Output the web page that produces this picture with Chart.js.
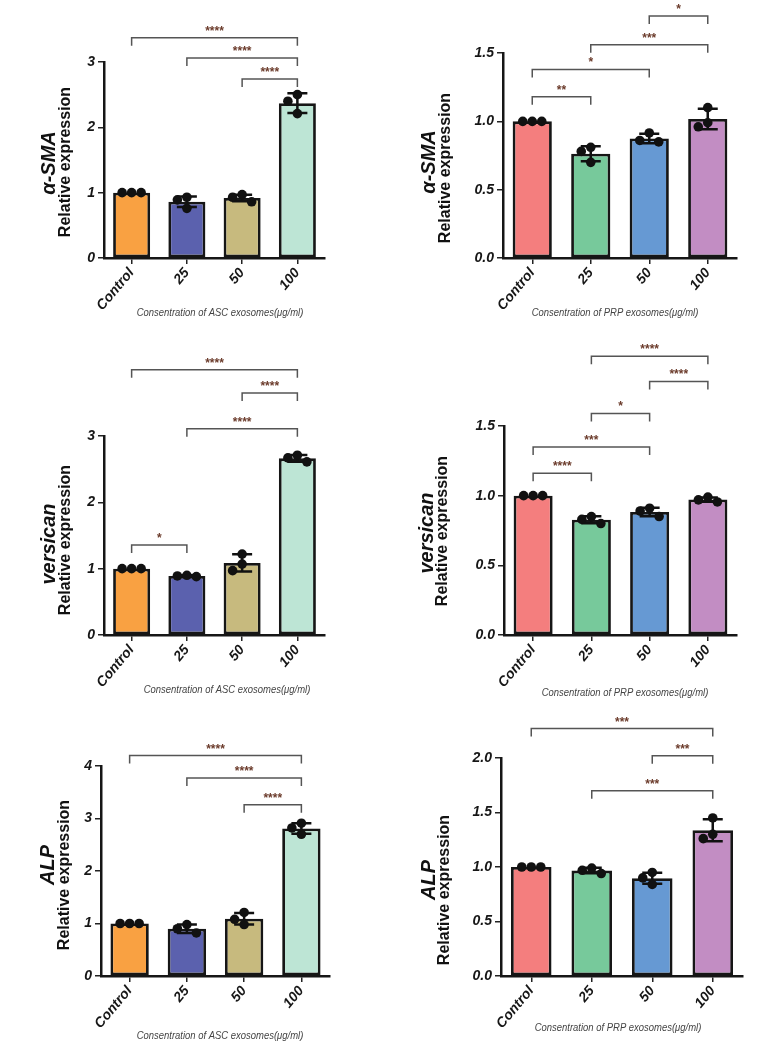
<!DOCTYPE html>
<html>
<head>
<meta charset="utf-8">
<script src="https://cdn.jsdelivr.net/npm/chart.js@4.4.1/dist/chart.umd.min.js"></script>
<style>
  html, body { margin: 0; padding: 0; background: #fff; }
  body { width: 771px; height: 1060px; position: relative; overflow: hidden; }
  canvas { position: absolute; }
</style>
</head>
<body>
<canvas id="c1" width="385" height="340" style="left:0;top:0"></canvas>
<canvas id="c2" width="386" height="340" style="left:385px;top:0"></canvas>
<canvas id="c3" width="385" height="360" style="left:0;top:340px"></canvas>
<canvas id="c4" width="386" height="360" style="left:385px;top:340px"></canvas>
<canvas id="c5" width="385" height="360" style="left:0;top:700px"></canvas>
<canvas id="c6" width="386" height="360" style="left:385px;top:700px"></canvas>
<script>
// categories shared by all six panels
const categories = ['Control', '25', '50', '100'];

// ASC exosomes - alpha-SMA
const ascSmaMean = [1.00, 0.86, 0.92, 2.37];
const ascSmaSD = [0.00, 0.08, 0.05, 0.15];
const ascSmaPoints = [[1.00, 1.00, 1.00], [0.93, 0.89, 0.76], [0.97, 0.93, 0.86], [2.50, 2.40, 2.21]];
const ascSmaSig = [[0, 3, 3.37, '****'], [1, 3, 3.06, '****'], [2, 3, 2.74, '****']];
const ascSmaTicks = [0, 1, 2, 3];

// PRP exosomes - alpha-SMA
const prpSmaMean = [1.00, 0.763, 0.875, 1.017];
const prpSmaSD = [0.00, 0.055, 0.035, 0.075];
const prpSmaPoints = [[1.00, 1.00, 1.00], [0.81, 0.78, 0.70], [0.915, 0.86, 0.85], [1.10, 0.99, 0.96]];
const prpSmaSig = [[2, 3, 1.77, '*'], [1, 3, 1.56, '***'], [0, 2, 1.38, '*'], [0, 1, 1.18, '**']];
const prpSmaTicks = [0, 0.5, 1.0, 1.5];

// ASC exosomes - versican
const ascVerMean = [1.00, 0.89, 1.087, 2.663];
const ascVerSD = [0.00, 0.01, 0.13, 0.05];
const ascVerPoints = [[1.00, 1.00, 1.00], [0.90, 0.89, 0.88], [1.22, 1.07, 0.97], [2.71, 2.67, 2.61]];
const ascVerSig = [[0, 3, 4.00, '****'], [2, 3, 3.65, '****'], [1, 3, 3.11, '****'], [0, 1, 1.355, '*']];
const ascVerTicks = [0, 1, 2, 3];

// PRP exosomes - versican
const prpVerMean = [1.00, 0.827, 0.883, 0.972];
const prpVerSD = [0.00, 0.025, 0.03, 0.015];
const prpVerPoints = [[1.00, 1.00, 1.00], [0.85, 0.83, 0.80], [0.91, 0.89, 0.85], [0.99, 0.97, 0.955]];
const prpVerSig = [[1, 3, 2.00, '****'], [2, 3, 1.82, '****'], [1, 2, 1.59, '*'], [0, 2, 1.35, '***'], [0, 1, 1.16, '****']];
const prpVerTicks = [0, 0.5, 1.0, 1.5];

// ASC exosomes - ALP
const ascAlpMean = [1.00, 0.90, 1.09, 2.81];
const ascAlpSD = [0.00, 0.08, 0.11, 0.10];
const ascAlpPoints = [[1.00, 1.00, 1.00], [0.98, 0.90, 0.82], [1.21, 1.08, 0.98], [2.91, 2.82, 2.70]];
const ascAlpSig = [[0, 3, 4.20, '****'], [1, 3, 3.77, '****'], [2, 3, 3.26, '****']];
const ascAlpTicks = [0, 1, 2, 3, 4];

// PRP exosomes - ALP
const prpAlpMean = [1.00, 0.967, 0.897, 1.337];
const prpAlpSD = [0.00, 0.025, 0.05, 0.10];
const prpAlpPoints = [[1.00, 1.00, 1.00], [0.99, 0.97, 0.94], [0.95, 0.90, 0.84], [1.45, 1.30, 1.26]];
const prpAlpSig = [[0, 3, 2.27, '***'], [2, 3, 2.02, '***'], [1, 3, 1.70, '***']];
const prpAlpTicks = [0, 0.5, 1.0, 1.5, 2.0];

const ascColors = ['#F9A142', '#5B61AE', '#C7BA7E', '#BDE5D5'];
const prpColors = ['#F47E7E', '#77C99B', '#6699D3', '#C28DC3'];

const ascTitle = 'Consentration of ASC exosomes(μg/ml)';
const prpTitle = 'Consentration of PRP exosomes(μg/ml)';

const FONT = "'Liberation Sans', Arial, sans-serif";

// layout of each panel: canvas size, plot area, label positions (canvas px)
const panels = [
  { id: 'c1', gene: 'α-SMA', xTitle: ascTitle, colors: ascColors, mean: ascSmaMean, sd: ascSmaSD, points: ascSmaPoints, sig: ascSmaSig, ticks: ascSmaTicks, dec: 0,
    w: 385, h: 340, area: { l: 104, r: 325, t: 62, b: 258 }, geneX: 55, geneY: 163, labX: 70, labY: 162, titleX: 220, titleY: 313 },
  { id: 'c2', gene: 'α-SMA', xTitle: prpTitle, colors: prpColors, mean: prpSmaMean, sd: prpSmaSD, points: prpSmaPoints, sig: prpSmaSig, ticks: prpSmaTicks, dec: 1,
    w: 386, h: 340, area: { l: 118, r: 352, t: 53, b: 258 }, geneX: 50, geneY: 162, labX: 65, labY: 168, titleX: 230, titleY: 313 },
  { id: 'c3', gene: 'versican', xTitle: ascTitle, colors: ascColors, mean: ascVerMean, sd: ascVerSD, points: ascVerPoints, sig: ascVerSig, ticks: ascVerTicks, dec: 0,
    w: 385, h: 360, area: { l: 104, r: 325, t: 96, b: 295 }, geneX: 55, geneY: 204, labX: 70, labY: 200, titleX: 227, titleY: 350 },
  { id: 'c4', gene: 'versican', xTitle: prpTitle, colors: prpColors, mean: prpVerMean, sd: prpVerSD, points: prpVerPoints, sig: prpVerSig, ticks: prpVerTicks, dec: 1,
    w: 386, h: 360, area: { l: 119, r: 352, t: 86, b: 295 }, geneX: 48, geneY: 193, labX: 62, labY: 191, titleX: 240, titleY: 353 },
  { id: 'c5', gene: 'ALP', xTitle: ascTitle, colors: ascColors, mean: ascAlpMean, sd: ascAlpSD, points: ascAlpPoints, sig: ascAlpSig, ticks: ascAlpTicks, dec: 0,
    w: 385, h: 360, area: { l: 101, r: 330, t: 66, b: 276 }, geneX: 54, geneY: 165, labX: 69, labY: 175, titleX: 220, titleY: 336 },
  { id: 'c6', gene: 'ALP', xTitle: prpTitle, colors: prpColors, mean: prpAlpMean, sd: prpAlpSD, points: prpAlpPoints, sig: prpAlpSig, ticks: prpAlpTicks, dec: 1,
    w: 386, h: 360, area: { l: 116, r: 358, t: 58, b: 276 }, geneX: 50, geneY: 180, labX: 64, labY: 190, titleX: 233, titleY: 328 }
];

// spread overlapping dots sideways, like a scatter-dot bar plot
function swarm(ys, d) {
  const placed = [];
  const cand = [0, -d, d, -2 * d, 2 * d];
  return ys.map(y => {
    let off = 0;
    for (const c of cand) {
      if (placed.every(p => Math.hypot(p.x - c, p.y - y) >= d)) { off = c; break; }
    }
    placed.push({ x: off, y: y });
    return off;
  });
}

function rotatedText(ctx, text, x, y, font) {
  ctx.save();
  ctx.fillStyle = '#111';
  ctx.textAlign = 'center';
  ctx.textBaseline = 'alphabetic';
  ctx.translate(x, y);
  ctx.rotate(-Math.PI / 2);
  ctx.font = font;
  ctx.fillText(text, 0, 0);
  ctx.restore();
}

function makePanel(p) {
  const extras = {
    id: 'extras',
    afterDatasetsDraw(chart) {
      const ctx = chart.ctx;
      const xs = chart.scales.x, ys = chart.scales.y;
      ctx.save();
      // error bars (mean +/- SD)
      ctx.strokeStyle = '#111';
      ctx.lineWidth = 2.5;
      p.mean.forEach((m, i) => {
        if (!p.sd[i]) return;
        const cx = xs.getPixelForValue(i);
        const top = ys.getPixelForValue(m + p.sd[i]);
        const bot = ys.getPixelForValue(m - p.sd[i]);
        ctx.beginPath();
        ctx.moveTo(cx, top); ctx.lineTo(cx, bot);
        ctx.moveTo(cx - 10, top); ctx.lineTo(cx + 10, top);
        ctx.moveTo(cx - 10, bot); ctx.lineTo(cx + 10, bot);
        ctx.stroke();
      });
      // individual replicates
      ctx.fillStyle = '#111';
      p.points.forEach((pts, i) => {
        const cx = xs.getPixelForValue(i);
        const py = pts.map(v => ys.getPixelForValue(v));
        const offs = swarm(py, 9.5);
        py.forEach((y, k) => {
          ctx.beginPath();
          ctx.arc(cx + offs[k], y, 4.8, 0, Math.PI * 2);
          ctx.fill();
        });
      });
      // significance brackets
      p.sig.forEach(([a, b, lvl, txt]) => {
        const x1 = xs.getPixelForValue(a), x2 = xs.getPixelForValue(b);
        const y = ys.getPixelForValue(lvl);
        ctx.strokeStyle = '#555';
        ctx.lineWidth = 1.5;
        ctx.beginPath();
        ctx.moveTo(x1, y + 8); ctx.lineTo(x1, y); ctx.lineTo(x2, y); ctx.lineTo(x2, y + 8);
        ctx.stroke();
        ctx.fillStyle = '#6b3b2b';
        ctx.font = 'bold 12px ' + FONT;
        ctx.textAlign = 'center';
        ctx.textBaseline = 'alphabetic';
        ctx.fillText(txt, (x1 + x2) / 2, y - 3);
      });
      ctx.restore();
    },
    afterDraw(chart) {
      const ctx = chart.ctx;
      rotatedText(ctx, p.gene, p.geneX, p.geneY, 'italic bold 20px ' + FONT);
      rotatedText(ctx, 'Relative expression', p.labX, p.labY, 'bold 16px ' + FONT);
      // x axis title, in a condensed italic face
      ctx.save();
      ctx.fillStyle = '#444';
      ctx.textAlign = 'center';
      ctx.textBaseline = 'middle';
      ctx.font = 'italic 11px ' + FONT;
      ctx.translate(p.titleX, p.titleY);
      ctx.scale(0.86, 1);
      ctx.fillText(p.xTitle, 0, 0);
      ctx.restore();
    }
  };

  const tickFont = { family: FONT, size: 14, weight: 'bold', style: 'italic' };
  const a = p.area;

  new Chart(document.getElementById(p.id).getContext('2d'), {
    type: 'bar',
    data: {
      labels: categories,
      datasets: [{
        data: p.mean,
        backgroundColor: p.colors,
        borderColor: '#161616',
        borderWidth: 2.8,
        borderSkipped: false,
        categoryPercentage: 1,
        barPercentage: 0.67
      }]
    },
    options: {
      responsive: false,
      animation: false,
      layout: { padding: { left: 0, top: a.t, right: p.w - a.r, bottom: 0 } },
      plugins: { legend: { display: false }, tooltip: { enabled: false } },
      scales: {
        x: {
          offset: true,
          grid: { display: true, offset: false, drawOnChartArea: false, drawTicks: true, tickLength: 6, color: '#222', lineWidth: 1.5 },
          border: { display: true, color: '#161616', width: 2.5 },
          ticks: { color: '#161616', font: tickFont, minRotation: 50, maxRotation: 50, padding: 1 },
          title: { display: false },
          afterFit: s => { s.height = p.h - a.b; }
        },
        y: {
          min: p.ticks[0],
          max: p.ticks[p.ticks.length - 1],
          afterBuildTicks: s => { s.ticks = p.ticks.map(v => ({ value: v })); },
          grid: { display: true, drawOnChartArea: false, drawTicks: true, tickLength: 6, color: '#222', lineWidth: 1.5 },
          border: { display: true, color: '#161616', width: 2.5 },
          ticks: { color: '#161616', font: tickFont, padding: 3, callback: v => Number(v).toFixed(p.dec) },
          afterFit: s => { s.width = a.l; }
        }
      }
    },
    plugins: [extras]
  });
}

panels.forEach(makePanel);
</script>
</body>
</html>
